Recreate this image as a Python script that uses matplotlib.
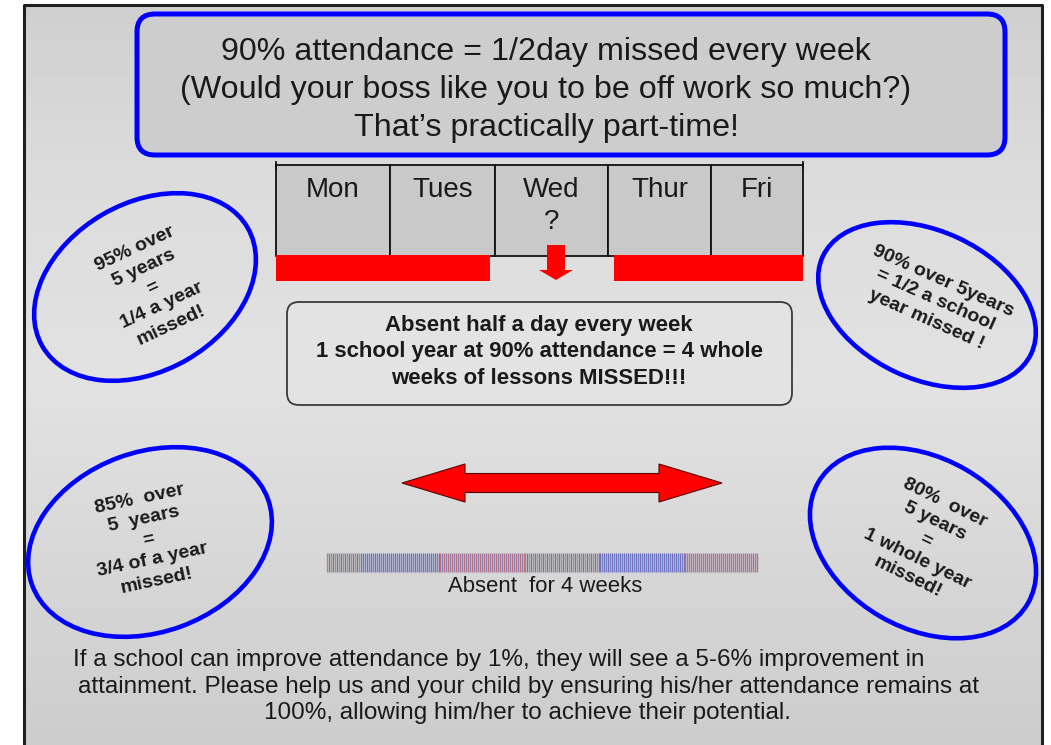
import numpy as np
import matplotlib.pyplot as plt
from matplotlib.patches import FancyBboxPatch, Ellipse, Rectangle, Polygon, FancyArrow

# text content
headline = ["90% attendance = 1/2day missed every week",
            "(Would your boss like you to be off work so much?)",
            "That\u2019s practically part-time!"]
days = ["Mon", "Tues", "Wed", "Thur", "Fri"]
missing_day = "Wed"
note = ["Absent half a day every week",
        "1 school year at 90% attendance = 4 whole",
        "weeks of lessons MISSED!!!"]
bubbles = ["95% over\n5 years\n=\n1/4 a year\nmissed!",
           "90% over 5years\n= 1/2 a school\nyear missed !",
           "85%  over\n5  years\n=\n3/4 of a year\nmissed!",
           "80%  over\n5 years\n=\n1 whole year\nmissed!"]
weeks_label = "Absent  for 4 weeks"
footer = ["If a school can improve attendance by 1%, they will see a 5-6% improvement in",
          "attainment. Please help us and your child by ensuring his/her attendance remains at",
          "100%, allowing him/her to achieve their potential."]

W, H = 1051, 745
FONT = "Liberation Sans"
INK = "#1a1a1a"
BLUE = "#0000ff"

fig = plt.figure(figsize=(W / 100, H / 100), dpi=100)
ax = fig.add_axes([0, 0, 1, 1])
ax.set_xlim(0, W)
ax.set_ylim(H, 0)
ax.axis("off")

# grey gradient panel with black frame
ys = np.arange(5, H)
shade = np.interp(ys, [5, 170, 380, 745], [0.81, 0.86, 0.885, 0.80])
ax.imshow(np.repeat(shade[:, None], 2, axis=1), cmap="gray", vmin=0, vmax=1,
          extent=[24, 1042, H, 5], aspect="auto", zorder=0)
ax.plot([24, 24, 1042, 1042], [H, 5, 5, H], color="#202020", lw=2.2, zorder=1)

# headline box
ax.add_patch(FancyBboxPatch((137, 14), 868, 141, boxstyle="round,pad=0,rounding_size=18",
                            fc="#cdcdcd", ec=BLUE, lw=3.6, zorder=2))
for txt, y in zip(headline, [52, 90, 128]):
    ax.text(546, y, txt, ha="center", va="center", fontsize=23.2, family=FONT, color=INK, zorder=3)

# week table
edges = [276, 390, 495, 608, 711, 803]
for i, d in enumerate(days):
    xm = (edges[i] + edges[i + 1]) / 2
    ax.add_patch(Rectangle((edges[i], 165), edges[i + 1] - edges[i], 91,
                           fc="#c9c9c9", ec="#111111", lw=1.3, zorder=2))
    ax.text(xm, 190, d, ha="center", va="center", fontsize=20, family=FONT, color=INK, zorder=3)
    if d == missing_day:
        ax.text(xm, 222, "?", ha="center", va="center", fontsize=20, family=FONT,
                color=INK, zorder=3)
ax.plot([276, 276], [162, 168], color="#111111", lw=1.3, zorder=3)
ax.plot([803, 803], [162, 168], color="#111111", lw=1.3, zorder=3)

# attended time (red bars), Wednesday half-day gap
for x0, x1 in [(276, 490), (614, 803)]:
    ax.add_patch(Rectangle((x0, 255), x1 - x0, 26, fc="#ff0000", ec="none", zorder=3))
ax.add_patch(FancyArrow(556, 245, 0, 35, width=18, head_width=34, head_length=10,
                        length_includes_head=True, fc="#ff0000", ec="none", zorder=4))

# note box
ax.add_patch(FancyBboxPatch((287, 302), 505, 103, boxstyle="round,pad=0,rounding_size=12",
                            fc="#e3e3e3", ec="#3a3a3a", lw=1.3, zorder=2))
for txt, y in zip(note, [326, 352, 378]):
    ax.text(539, y, txt, ha="center", va="center", fontsize=15.9, fontweight="bold",
            family=FONT, color=INK, zorder=3)

# double headed arrow
x0, x1, yc, sh, hh, hl = 402, 722, 483, 9.5, 19, 63
arrow = [(x0, yc), (x0 + hl, yc - hh), (x0 + hl, yc - sh), (x1 - hl, yc - sh),
         (x1 - hl, yc - hh), (x1, yc), (x1 - hl, yc + hh), (x1 - hl, yc + sh),
         (x0 + hl, yc + sh), (x0 + hl, yc + hh)]
ax.add_patch(Polygon(arrow, closed=True, fc="#ff0000", ec="#5a0000", lw=0.8, zorder=3))

# striped "4 weeks" bar
segs = [327, 363, 440, 525, 600, 685, 758]
pal = [("#b88a5a", "#5a7ec0"), ("#7a6cc0", "#6a84c0"), ("#c06a7e", "#8484b0")] * 2
for k in range(len(segs) - 1):
    xs = np.arange(segs[k], segs[k + 1], 2.0)
    cols = [pal[k][j % 2] for j in range(len(xs))]
    ax.vlines(xs, 553, 572, colors=cols, lw=1.0, zorder=3)
ax.text(545, 586, weeks_label, ha="center", va="center", fontsize=15.9,
        family=FONT, color=INK, zorder=3)

# bubbles
ell = [((145, 287), 237, 168, -30), ((927, 305), 230, 148, 25),
       ((150, 542), 251, 180, -20), ((923, 543), 242, 170, 30)]
txt_pos = [(153, 287, 25), (935, 300, -24), (148, 540, 12), (926, 540, -26)]
for (c, w, h, a), (tx, ty, rot), txt in zip(ell, txt_pos, bubbles):
    ax.add_patch(Ellipse(c, w, h, angle=a, fc="none", ec=BLUE, lw=3.3, zorder=3))
    ax.text(tx, ty, txt, ha="center", va="center", rotation=rot, rotation_mode="anchor",
            multialignment="center", fontsize=14, fontweight="bold", family=FONT,
            color=INK, linespacing=1.3, zorder=4)

# footer
for txt, x, y in zip(footer, [499, 528, 527], [660, 687, 713]):
    ax.text(x, y, txt, ha="center", va="center", fontsize=17.5, family=FONT,
            color=INK, zorder=3)

fig.savefig("out.png", dpi=100)
